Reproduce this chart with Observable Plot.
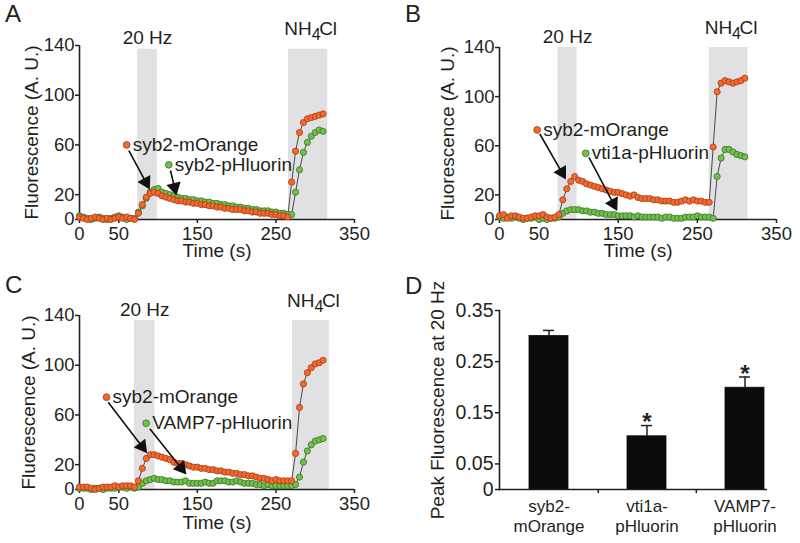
<!DOCTYPE html>
<html><head><meta charset="utf-8">
<script src="https://cdn.jsdelivr.net/npm/d3@7"></script>
<script src="https://cdn.jsdelivr.net/npm/@observablehq/plot@0.6"></script>
<style>
body{margin:0;background:#fff;}
#root{position:relative;width:800px;height:543px;overflow:hidden;background:#fff;font-family:"Liberation Sans",Arial,sans-serif;color:#231f20;}
.panel{position:absolute;}
.panel svg{overflow:visible;}
.letter{position:absolute;font-size:24px;line-height:1;}
</style></head><body><div id="root"></div>
<script>
// ---------- data ----------
const timeS = [0,5,10,15,20,25,30,35,40,45,50,55,60,65,70,75,80,85,90,95,100,105,110,115,120,125,130,135,140,145,150,155,160,165,170,175,180,185,190,195,200,205,210,215,220,225,230,235,240,245,250,255,260,265,270,275,280,285,290,295,300,305,310];

const aOrange = [2,1,0,1,2,1,0,1,0,1,2,1,2,1,0,5,12,18,21,22,21,19,18,17,16,15,15,14,14,13,13,12,12,11,11,10,10,9,9,8,8,8,7,7,6,6,5,5,5,4,4,3,3,2,30,55,70,78,81,82,83,84,85];
const aGreen  = [3,2,1,0,1,2,1,0,1,2,3,2,0,1,1,6,11,17,22,24,25,22,21,20,19,18,17,17,16,16,15,15,14,14,13,13,12,12,11,11,10,10,9,9,8,8,7,7,7,6,6,5,5,4,4,22,40,54,62,67,70,72,71];

const bOrange = [3,4,1,3,3,2,1,1,2,3,3,4,2,1,2,4,16,25,31,35,32,31,29,28,27,26,25,24,23,22,22,21,20,19,20,18,17,17,17,16,16,15,15,15,14,14,15,16,15,16,15,15,14,14,59,104,111,113,112,111,112,113,115];
const bGreen  = [2,1,2,1,2,1,0,1,1,2,0,1,0,1,1,2,5,7,8,8,8,7,7,6,6,5,5,4,4,4,3,3,3,3,2,3,2,2,2,2,2,1,2,2,1,1,1,2,2,2,3,2,2,2,1,35,50,57,57,55,53,52,51];

const cOrange = [2,2,2,1,0,1,2,2,2,3,2,3,3,3,2,7,17,25,28,28,27,26,25,24,22,21,21,20,19,18,18,17,17,16,16,15,15,14,14,13,13,12,12,11,11,10,9,9,8,7,8,7,7,7,7,29,66,85,94,98,101,102,104];
const cGreen  = [1,1,1,0,1,1,0,1,1,1,2,2,1,2,1,2,5,7,8,9,8,8,7,7,6,6,6,7,5,5,5,5,6,5,5,7,7,7,6,6,7,6,5,5,5,4,4,3,4,3,3,3,3,3,3,4,10,22,31,36,39,40,41];

const xTicks = [0, 50, 150, 250, 350];
const yTicks = [0, 20, 60, 100, 140];

// stimulation windows [start, end] in s, and shaded height
const aStim = [74, 99],  aNH4 = [266, 316], aBandTop = 137;
const bStim = [74, 98],  bNH4 = [265, 314], bBandTop = 140;
const cStim = [70, 96],  cNH4 = [271, 318], cBandTop = 136;

// annotation anchors (time, fluorescence)
const aLabels = [{text: "syb2-mOrange", t: 60, v: 60, s: "o"}, {text: "syb2-pHluorin", t: 113.6, v: 44, s: "g"}];
const aArrows = [{t1: 62.8, v1: 55.5, t2: 89.5, v2: 24.1}, {t1: 115.8, v1: 39.4, t2: 123.4, v2: 19.3}];
const bLabels = [{text: "syb2-mOrange", t: 47.6, v: 72.9, s: "o"}, {text: "vti1a-pHluorin", t: 109, v: 53.9, s: "g"}];
const bArrows = [{t1: 51, v1: 69.6, t2: 84, v2: 32.5}, {t1: 113, v1: 50.6, t2: 148.8, v2: 7}];
const cLabels = [{text: "syb2-mOrange", t: 34.4, v: 74.3, s: "o"}, {text: "VAMP7-pHluorin", t: 84.8, v: 53.3, s: "g"}];
const cArrows = [{t1: 36.5, v1: 70.2, t2: 86.1, v2: 29.2}, {t1: 89.5, v1: 48.8, t2: 136, v2: 12.1}];

// panel D
const dCats = ["syb2-mOrange", "vti1a-pHluorin", "VAMP7-pHluorin"];
const dTickLabels = ["syb2-\nmOrange", "vti1a-\npHluorin", "VAMP7-\npHluorin"];
const dValues = [0.30, 0.104, 0.199];
const dErrors = [0.011, 0.021, 0.021];
const dStars = ["", "*", "*"];
const dYTicks = [0, 0.05, 0.15, 0.25, 0.35];

// ---------- style ----------
const ink = "#231f20";
const orangeFill = "#f26a2c", orangeEdge = "#a93a16";
const greenFill = "#72c04a", greenEdge = "#35752a";
const bandFill = "#e1e1e3";
const font = "Liberation Sans, Arial, sans-serif";

const root = document.getElementById("root");

function place(el, left, top) {
  const d = document.createElement("div");
  d.className = "panel";
  d.style.left = left + "px"; d.style.top = top + "px";
  d.appendChild(el);
  root.appendChild(d);
}
function letter(txt, left, top) {
  const d = document.createElement("div");
  d.className = "letter";
  d.textContent = txt;
  d.style.left = left + "px"; d.style.top = top + "px";
  root.appendChild(d);
}

function seriesPanel(c) {
  const kx = (c.w - c.ml - c.mr) / 350, ky = (c.h - c.mt - c.mb) / 140;
  const rowsO = timeS.map((t, i) => ({t, v: c.orange[i]}));
  const rowsG = timeS.map((t, i) => ({t, v: c.green[i]}));
  const headR = 5.4;
  const heads = c.arrows.map(a => {
    const px = (a.t2 - a.t1) * kx, py = -(a.v2 - a.v1) * ky;
    const len = Math.hypot(px, py), ux = px / len, uy = py / len;
    const off = 1.555 * headR;
    return {t1: a.t1, v1: a.v1, t: a.t2 - ux * off / kx, v: a.v2 + uy * off / ky,
            angle: Math.atan2(ux, -uy) * 180 / Math.PI};
  });
  const nh4Mid = d => (d[0] + d[1]) / 2;
  return Plot.plot({
    width: c.w, height: c.h,
    marginLeft: c.ml, marginRight: c.mr, marginTop: c.mt, marginBottom: c.mb,
    x: {domain: [0, 350]},
    y: {domain: [0, 140]},
    style: {fontFamily: font, fontSize: "18.5px", color: ink, background: "transparent"},
    marks: [
      Plot.rect([c.stim, c.nh4], {x1: d => d[0], x2: d => d[1], y1: 0, y2: c.bandTop, fill: bandFill}),
      Plot.text([c.stim], {x: nh4Mid, y: c.bandTop, dy: -11, text: () => "20 Hz", fontSize: 19}),
      Plot.text([c.nh4], {x: nh4Mid, y: c.bandTop, dy: -20, dx: 3.5, textAnchor: "end", text: () => "NH", fontSize: 19}),
      Plot.text([c.nh4], {x: nh4Mid, y: c.bandTop, dy: -14, dx: 3.5, textAnchor: "start", text: () => "4", fontSize: 16}),
      Plot.text([c.nh4], {x: nh4Mid, y: c.bandTop, dy: -20, dx: 11, textAnchor: "start", text: () => "Cl", fontSize: 19}),
      Plot.ruleX([0], {stroke: ink, strokeWidth: 1.6}),
      Plot.ruleY([0], {stroke: ink, strokeWidth: 1.6}),
      Plot.axisX({ticks: xTicks, tickSize: 4, tickPadding: 3, strokeWidth: 1.5, fontSize: 18.5, label: null}),
      Plot.axisY({ticks: yTicks, tickSize: 4, tickPadding: 1, strokeWidth: 1.5, fontSize: 18.5, label: null}),
      Plot.text(["Time (s)"], {text: d => d, frameAnchor: "bottom", textAnchor: "middle", lineAnchor: "middle", dy: c.xlabDy, fontSize: 19}),
      Plot.text(["Fluorescence (A. U.)"], {text: d => d, frameAnchor: "left", textAnchor: "middle", lineAnchor: "middle", dx: c.ylabDx, rotate: -90, fontSize: 19}),
      Plot.line(rowsG, {x: "t", y: "v", stroke: ink, strokeWidth: 0.8}),
      Plot.line(rowsO, {x: "t", y: "v", stroke: ink, strokeWidth: 0.8}),
      Plot.dot(rowsG, {x: "t", y: "v", r: 3.1, fill: greenFill, stroke: greenEdge, strokeWidth: 0.8}),
      Plot.dot(rowsO, {x: "t", y: "v", r: 3.1, fill: orangeFill, stroke: orangeEdge, strokeWidth: 0.8}),
      Plot.link(heads, {x1: "t1", y1: "v1", x2: "t", y2: "v", stroke: "#111", strokeWidth: 1.6}),
      Plot.dot(heads, {x: "t", y: "v", r: headR, symbol: "triangle", fill: "#111", rotate: "angle"}),
      Plot.dot(c.labels.filter(d => d.s === "o"), {x: "t", y: "v", r: 3.4, fill: orangeFill, stroke: orangeEdge, strokeWidth: 0.8}),
      Plot.dot(c.labels.filter(d => d.s === "g"), {x: "t", y: "v", r: 3.4, fill: greenFill, stroke: greenEdge, strokeWidth: 0.8}),
      Plot.text(c.labels, {x: "t", y: "v", text: "text", textAnchor: "start", lineAnchor: "middle", dx: 6, fontSize: 19})
    ]
  });
}

place(seriesPanel({orange: aOrange, green: aGreen, stim: aStim, nh4: aNH4, bandTop: aBandTop,
  labels: aLabels, arrows: aArrows, w: 400, h: 270, ml: 79, mr: 46, mt: 45, mb: 51, ylabDx: -48, xlabDy: 31}), 0, 0);
place(seriesPanel({orange: bOrange, green: bGreen, stim: bStim, nh4: bNH4, bandTop: bBandTop,
  labels: bLabels, arrows: bArrows, w: 400, h: 270, ml: 99, mr: 24, mt: 47, mb: 51, ylabDx: -52, xlabDy: 31}), 400, 0);
place(seriesPanel({orange: cOrange, green: cGreen, stim: cStim, nh4: cNH4, bandTop: cBandTop,
  labels: cLabels, arrows: cArrows, w: 400, h: 273, ml: 79, mr: 46, mt: 45, mb: 54, ylabDx: -51, xlabDy: 33}), 0, 270);

// Panel D
const dRows = dCats.map((cat, i) => ({cat, value: dValues[i], err: dErrors[i], star: dStars[i]}));
const dRange = [98, 394], dPadIn = 0.604, dPadOut = 0.302;
const dStep = (dRange[1] - dRange[0]) / (dCats.length - dPadIn + 2 * dPadOut);
const dPlot = Plot.plot({
  width: 400, height: 273, marginLeft: 99, marginRight: 33, marginTop: 40, marginBottom: 54,
  x: {domain: dCats, range: dRange, paddingInner: dPadIn, paddingOuter: dPadOut},
  y: {domain: [0, 0.35]},
  style: {fontFamily: font, fontSize: "19px", color: ink, background: "transparent"},
  marks: [
    Plot.ruleX(dRows, {x: "cat", y1: "value", y2: d => d.value + d.err, stroke: ink, strokeWidth: 1.5}),
    Plot.tickY(dRows, {x: "cat", y: d => d.value + d.err, stroke: ink, strokeWidth: 1.5, insetLeft: 14, insetRight: 14}),
    Plot.barY(dRows, {x: "cat", y: "value", fill: "#0b0b0b", stroke: "#0b0b0b", strokeWidth: 0.8}),
    Plot.text(dRows.filter(d => d.star), {x: "cat", y: d => d.value + d.err, text: "star", dy: -3, fontSize: 24, fontWeight: "bold", fill: ink}),
    Plot.ruleY([0], {stroke: ink, strokeWidth: 1.6}),
    Plot.frame({anchor: "left", stroke: ink, strokeWidth: 1.6}),
    Plot.ruleX(dCats.slice(0, -1), {x: d => d, dx: dStep / 2, y1: 0, y2: -0.008, stroke: ink, strokeWidth: 1.5}),
    Plot.axisY({ticks: dYTicks, tickFormat: d => d === 0 ? "0" : d3.format(".2f")(d), tickSize: 4, tickPadding: 2, strokeWidth: 1.5, fontSize: 19.5, label: null}),
    Plot.axisX({tickSize: 0, tickPadding: 8, tickFormat: d => dTickLabels[dCats.indexOf(d)], fontSize: 17, lineHeight: 1.2, label: null}),
    Plot.text(["Peak Fluorescence at 20 Hz"], {text: d => d, frameAnchor: "left", textAnchor: "middle", lineAnchor: "middle", dx: -61.5, rotate: -90, fontSize: 19})
  ]
});
place(dPlot, 400, 270);

letter("A", 5, 2);
letter("B", 405, 2);
letter("C", 5, 273);
letter("D", 405, 274);
</script></body></html>
